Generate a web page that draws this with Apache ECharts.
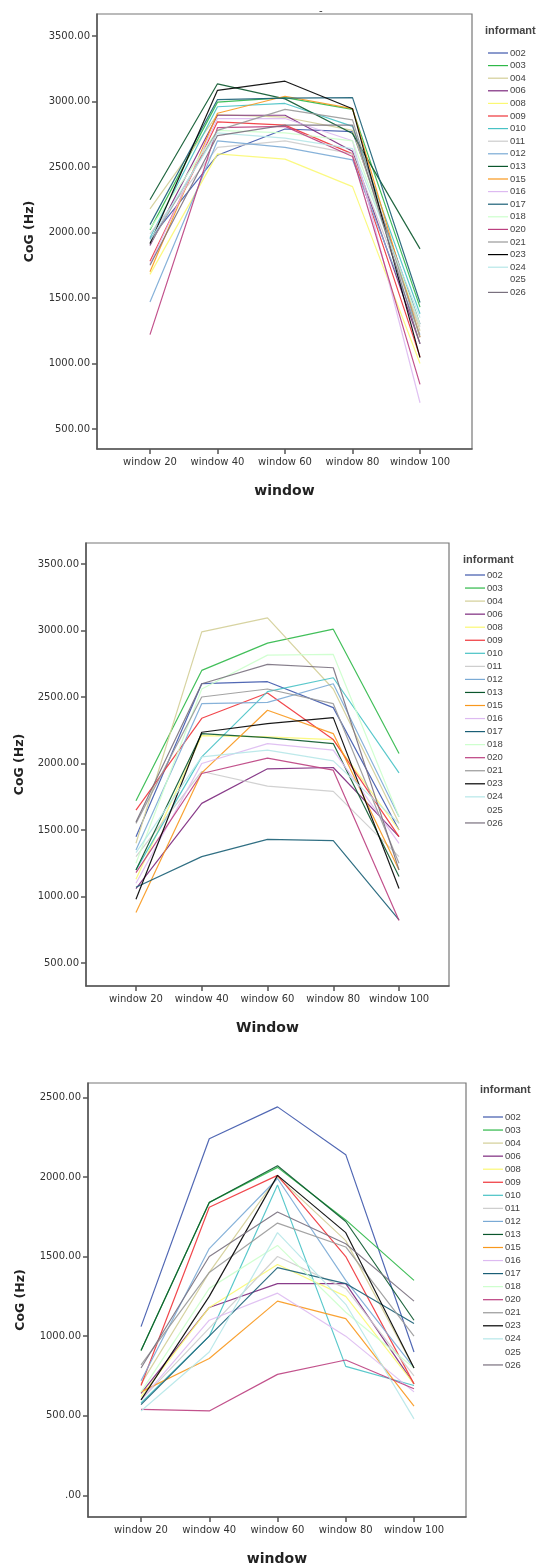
<!DOCTYPE html>
<html>
<head>
<meta charset="utf-8">
<script src="https://cdn.jsdelivr.net/npm/echarts@6/dist/echarts.min.js"></script>
<style>
html, body { margin: 0; padding: 0; background: #fff; }
#main { width: 542px; height: 1567px; }
</style>
</head>
<body>
<div id="main"></div>
<script type="text/javascript">
// categorias do eixo x
var windows = ['window 20', 'window 40', 'window 60', 'window 80', 'window 100'];
var informants = ['002','003','004','006','008','009','010','011','012','013',
                  '015','016','017','018','020','021','023','024','025','026'];
// cores padrao do SPSS, na ordem dos informantes
var colors = ['#3E58AC','#2EB848','#D3CE97','#7C287D','#FBF873','#EF3338','#48C2C5','#CCCCCC','#7AAAD5','#0A562C',
              '#F8981D','#DDBAF1','#1A5F76','#CCFFCC','#BB3F7F','#999999','#000000','#B6E7E8','#FFFFFF','#79707E'];

// grafico 1 (uma linha por informante)
var cog1 = [
  [1950, 2590, 2790, 2770, 1300],
  [2020, 2995, 3030, 2940, 1430],
  [2180, 2900, 2880, 2780, 1250],
  [1900, 2895, 2895, 2620, 1150],
  [1680, 2600, 2560, 2350, 1000],
  [1780, 2845, 2820, 2600, 1050],
  [1960, 2960, 2985, 2810, 1380],
  [1990, 2650, 2700, 2600, 1280],
  [1470, 2700, 2650, 2555, 1220],
  [2250, 3135, 3020, 2755, 1875],
  [1700, 2910, 3040, 2945, 1200],
  [1760, 2870, 2870, 2700, 700],
  [2060, 3015, 3025, 3030, 1465],
  [2030, 2780, 2760, 2700, 1300],
  [1220, 2800, 2810, 2580, 840],
  [1910, 2780, 2940, 2860, 1200],
  [1915, 3085, 3155, 2945, 1045],
  [1940, 2760, 2720, 2640, 1350],
  [],
  [1750, 2740, 2820, 2820, 1150]
];
// grafico 2
var cog2 = [
  [1450, 2600, 2615, 2420, 1500],
  [1720, 2700, 2905, 3010, 2075],
  [1400, 2990, 3095, 2560, 1550],
  [1060, 1700, 1960, 1970, 1450],
  [1130, 2210, 2200, 2180, 1500],
  [1650, 2340, 2530, 2180, 1450],
  [1200, 2050, 2540, 2645, 1930],
  [1300, 1940, 1830, 1790, 1300],
  [1350, 2450, 2460, 2600, 1600],
  [1200, 2225, 2195, 2150, 1150],
  [880, 1930, 2400, 2225, 1200],
  [1100, 2000, 2150, 2100, 1400],
  [1070, 1300, 1430, 1420, 825],
  [1250, 2560, 2815, 2820, 1600],
  [1180, 1925, 2040, 1950, 820],
  [1550, 2500, 2560, 2450, 1250],
  [980, 2235, 2300, 2345, 1060],
  [1330, 2050, 2100, 2020, 1550],
  [],
  [1560, 2600, 2745, 2720, 1200]
];
// grafico 3
var cog3 = [
  [1060, 2240, 2440, 2140, 900],
  [910, 1840, 2060, 1730, 1350],
  [700, 1400, 2000, 1600, 800],
  [640, 1180, 1330, 1330, 700],
  [620, 1180, 1450, 1250, 700],
  [690, 1810, 2010, 1500, 700],
  [580, 1000, 1950, 810, 690],
  [600, 1050, 1500, 1300, 750],
  [720, 1550, 1990, 1350, 800],
  [910, 1840, 2070, 1720, 1100],
  [650, 860, 1220, 1110, 560],
  [600, 1100, 1270, 1000, 650],
  [570, 1000, 1430, 1330, 1080],
  [650, 1300, 1570, 1150, 800],
  [540, 530, 760, 850, 670],
  [820, 1400, 1710, 1560, 1000],
  [600, 1250, 2010, 1650, 800],
  [530, 900, 1650, 1200, 480],
  [],
  [800, 1500, 1780, 1580, 1220]
];
var yTicks1 = [500, 1000, 1500, 2000, 2500, 3000, 3500];
var yTicks3 = [0, 500, 1000, 1500, 2000, 2500];

var panels = [
  {data: cog1, grid: {left: 97, top: 14, width: 375, height: 435}, x: [-0.785, 4.77], y: [347, 3668], ticks: yTicks1,
   xname: 'window', ynameGap: 61, legend: {left: 488, top: 47, gap: 0.6}, title: {left: 480, top: 20}},
  {data: cog2, grid: {left: 86, top: 543, width: 363, height: 443}, x: [-0.76, 4.76], y: [327, 3658], ticks: yTicks1,
   xname: 'Window', ynameGap: 59, legend: {left: 465, top: 569, gap: 1.05}, title: {left: 458, top: 549}},
  {data: cog3, grid: {left: 88, top: 1083, width: 378, height: 441}, x: [-0.777, 4.762], y: [-136, 2590], ticks: yTicks3,
   xname: 'window', ynameGap: 61, legend: {left: 483, top: 1111, gap: 1.05}, title: {left: 475, top: 1079}}
];

var grids = [], xAxes = [], yAxes = [], legends = [], titles = [], series = [];

titles.push({text: '-', left: 314, top: 0, textStyle: {fontSize: 11, color: '#333', fontWeight: 'normal'}});

panels.forEach(function (p, k) {
  grids.push({left: p.grid.left, top: p.grid.top, width: p.grid.width, height: p.grid.height,
              show: true, borderColor: '#777', borderWidth: 1.2, backgroundColor: '#fff'});
  xAxes.push({
    type: 'value', gridIndex: k, min: p.x[0], max: p.x[1],
    name: p.xname, nameLocation: 'middle', nameGap: 35,
    nameTextStyle: {fontFamily: 'DejaVu Sans', fontSize: 14, fontWeight: 'bold', color: '#222'},
    axisLine: {show: true, onZero: false, lineStyle: {color: '#555', width: 1.5}},
    axisTick: {show: true, length: 5, customValues: [0, 1, 2, 3, 4], lineStyle: {color: '#555', width: 1.5}},
    axisLabel: {customValues: [0, 1, 2, 3, 4], margin: 8, fontFamily: 'DejaVu Sans', fontSize: 10, color: '#333',
                formatter: function (v) { return windows[Math.round(v)]; }},
    splitLine: {show: false}
  });
  yAxes.push({
    type: 'value', gridIndex: k, min: p.y[0], max: p.y[1],
    name: 'CoG (Hz)', nameLocation: 'middle', nameGap: p.ynameGap,
    nameTextStyle: {fontFamily: 'DejaVu Sans', fontSize: 12.5, fontWeight: 'bold', color: '#222'},
    axisLine: {show: true, onZero: false, lineStyle: {color: '#555', width: 1.5}},
    axisTick: {show: true, length: 5, customValues: p.ticks, lineStyle: {color: '#555', width: 1.5}},
    axisLabel: {customValues: p.ticks, margin: 7, fontFamily: 'DejaVu Sans', fontSize: 10, color: '#333',
                formatter: function (v) { return v === 0 ? '.00' : v.toFixed(2); }},
    splitLine: {show: false}
  });
  titles.push({text: 'informant', left: p.title.left, top: p.title.top,
               textStyle: {fontFamily: 'Liberation Sans', fontSize: 11, fontWeight: 'bold', color: '#444'}});
  legends.push({
    data: informants, orient: 'vertical', left: p.legend.left, top: p.legend.top,
    icon: 'rect', itemWidth: 20, itemHeight: 1.2, itemGap: p.legend.gap, selectedMode: false, padding: 0,
    textStyle: {fontFamily: 'Liberation Sans', fontSize: 9.5, lineHeight: 12, color: '#444', padding: [0, 0, 0, -3]}
  });
  p.data.forEach(function (vals, i) {
    series.push({
      name: informants[i], type: 'line', xAxisIndex: k, yAxisIndex: k,
      data: vals.map(function (v, j) { return [j, v]; }),
      showSymbol: false, symbol: 'none', silent: true,
      color: colors[i],
      lineStyle: {width: 1.2, color: colors[i], opacity: 0.9},
      emphasis: {disabled: true}
    });
  });
});

var myChart = echarts.init(document.getElementById('main'), null, {renderer: 'canvas'});
myChart.setOption({
  animation: false,
  backgroundColor: '#fff',
  title: titles,
  grid: grids,
  xAxis: xAxes,
  yAxis: yAxes,
  legend: legends,
  tooltip: {show: false},
  series: series
});
</script>
</body>
</html>
